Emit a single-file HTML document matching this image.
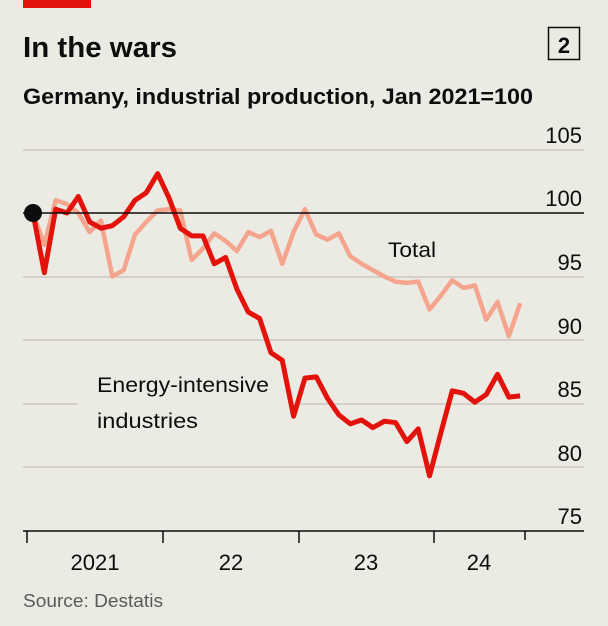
<!DOCTYPE html>
<html><head><meta charset="utf-8"><style>
html,body{margin:0;padding:0;background:#ecebe3;}
svg{display:block;font-family:"Liberation Sans",sans-serif;}
</style></head><body>
<svg width="608" height="626" viewBox="0 0 608 626">
<rect width="608" height="626" fill="#ecebe3"/>
<rect x="23" y="0" width="68" height="8" fill="#e3120b"/>
<text x="23" y="57" font-size="29" font-weight="bold" fill="#0d0d0d" textLength="154" lengthAdjust="spacingAndGlyphs">In the wars</text>
<rect x="548.5" y="27.5" width="31" height="32" fill="none" stroke="#0d0d0d" stroke-width="1.5"/>
<text x="564" y="53" font-size="22" font-weight="bold" fill="#0d0d0d" text-anchor="middle">2</text>
<text x="23" y="104" font-size="22" font-weight="bold" fill="#0d0d0d" textLength="510" lengthAdjust="spacingAndGlyphs">Germany, industrial production, Jan 2021=100</text>
<g stroke="#c9c7c0" stroke-width="1.5">
<line x1="23" y1="150" x2="584" y2="150"/>
<line x1="23" y1="277" x2="584" y2="277"/>
<line x1="23" y1="340" x2="584" y2="340"/>
<line x1="23" y1="404" x2="78" y2="404"/>
<line x1="300" y1="404" x2="584" y2="404"/>
<line x1="23" y1="467" x2="584" y2="467"/>
</g>
<g font-size="22" fill="#0d0d0d" text-anchor="end">
<text x="582" y="143">105</text>
<text x="582" y="206">100</text>
<text x="582" y="270">95</text>
<text x="582" y="334">90</text>
<text x="582" y="397">85</text>
<text x="582" y="461">80</text>
<text x="582" y="524">75</text>
</g>
<g transform="translate(33,213) scale(11.33,-12.7)" fill="none" stroke-linejoin="round">
<polyline vector-effect="non-scaling-stroke" stroke="#f5a48e" stroke-width="4.5" points="0,0 1,-2.5 2,1 3,0.7 4,0 5,-1.5 6,-0.6 7,-5 8,-4.5 9,-1.7 10,-0.7 11,0.2 12,0.3 13,0.2 14,-3.7 15,-2.8 16,-1.6 17,-2.2 18,-3 19,-1.5 20,-1.9 21,-1.4 22,-4 23,-1.5 24,0.3 25,-1.7 26,-2.1 27,-1.6 28,-3.4 29,-4 30,-4.5 31,-5 32,-5.4 33,-5.5 34,-5.4 35,-7.6 36,-6.5 37,-5.3 38,-5.9 39,-5.7 40,-8.4 41,-7 42,-9.7 43,-7.1"/>
<polyline vector-effect="non-scaling-stroke" stroke="#e3120b" stroke-width="5" points="0,0 1,-4.7 2,0.3 3,0 4,1.3 5,-0.7 6,-1.2 7,-1 8,-0.3 9,1 10,1.6 11,3.1 12,1.2 13,-1.2 14,-1.8 15,-1.8 16,-4 17,-3.5 18,-6 19,-7.8 20,-8.3 21,-11 22,-11.6 23,-16 24,-13 25,-12.9 26,-14.6 27,-15.9 28,-16.6 29,-16.3 30,-16.9 31,-16.4 32,-16.5 33,-18 34,-17 35,-20.7 36,-17.3 37,-14 38,-14.2 39,-14.9 40,-14.3 41,-12.7 42,-14.5 43,-14.4"/>
</g>
<line x1="23" y1="213" x2="584" y2="213" stroke="#0d0d0d" stroke-width="1.5"/>
<circle cx="33" cy="213" r="9" fill="#0d0d0d"/>
<text x="388" y="257" font-size="21" fill="#0d0d0d" textLength="48" lengthAdjust="spacingAndGlyphs">Total</text>
<text x="97" y="392" font-size="21" fill="#0d0d0d" textLength="172" lengthAdjust="spacingAndGlyphs">Energy-intensive</text>
<text x="97" y="428" font-size="21" fill="#0d0d0d" textLength="101" lengthAdjust="spacingAndGlyphs">industries</text>
<line x1="23" y1="531" x2="584" y2="531" stroke="#0d0d0d" stroke-width="1.5"/>
<g stroke="#0d0d0d" stroke-width="1.5">
<line x1="27" y1="531" x2="27" y2="543"/>
<line x1="163" y1="531" x2="163" y2="543"/>
<line x1="299" y1="531" x2="299" y2="543"/>
<line x1="434" y1="531" x2="434" y2="543"/>
<line x1="525" y1="531" x2="525" y2="540"/>
</g>
<g font-size="22" fill="#0d0d0d" text-anchor="middle">
<text x="95" y="570">2021</text>
<text x="231" y="570">22</text>
<text x="366" y="570">23</text>
<text x="479" y="570">24</text>
</g>
<text x="23" y="607" font-size="18" fill="#5a5a5a" textLength="140" lengthAdjust="spacingAndGlyphs">Source: Destatis</text>
</svg>
</body></html>
